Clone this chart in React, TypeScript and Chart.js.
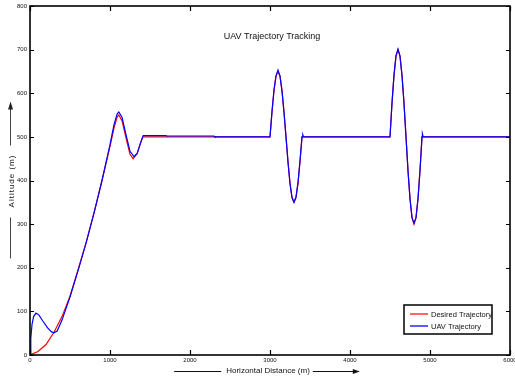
import React, { useEffect, useRef } from 'react';
import { Chart, registerables } from 'chart.js';

Chart.register(...registerables);

// ---- data ----
const desiredX = [0, 100, 200, 300, 400, 500, 600, 700, 800, 900, 1000, 1050, 1090, 1110, 1150, 1200, 1250, 1290, 1340, 1380, 1410,
  3000, 3025, 3050, 3075, 3100, 3125, 3150, 3175, 3200, 3225, 3250, 3275, 3300, 3325, 3350, 3375, 3400,
  4500, 4525, 4550, 4575, 4600, 4625, 4650, 4675, 4700, 4725, 4750, 4775, 4800, 4825, 4850, 4875, 4900, 6000];
const desiredY = [0, 8, 24, 52, 88, 135, 195, 257, 326, 400, 478, 520, 546, 550, 537, 498, 460, 450, 462, 485, 500,
  500, 557, 606, 639, 650, 639, 606, 557, 500, 443, 394, 361, 350, 361, 394, 443, 500,
  500, 577, 641, 685, 700, 685, 641, 577, 500, 423, 359, 315, 300, 315, 359, 423, 500, 500];

const uavX = [0, 10, 25, 45, 75, 110, 160, 220, 270, 300, 340, 400, 500, 600, 700, 800, 900, 1000, 1050, 1090, 1110, 1150, 1200, 1250, 1300, 1340, 1380, 1415,
  1700, 1710, 2300, 2310,
  3000, 3025, 3050, 3075, 3100, 3125, 3150, 3175, 3200, 3225, 3250, 3275, 3300, 3325, 3350, 3375, 3400, 3410, 3420,
  4500, 4525, 4550, 4575, 4600, 4625, 4650, 4675, 4700, 4725, 4750, 4775, 4800, 4825, 4850, 4875, 4900, 4905, 4915, 6000];
const uavY = [0, 38, 70, 88, 96, 92, 78, 62, 53, 51, 55, 80, 133, 193, 256, 325, 400, 482, 528, 553, 557, 545, 505, 467, 455, 462, 485, 503,
  503, 502, 502, 500,
  500, 558, 608, 640, 653, 640, 605, 556, 500, 442, 393, 361, 350, 362, 395, 445, 500, 505, 500,
  500, 578, 642, 686, 701, 685, 641, 577, 500, 422, 358, 315, 302, 315, 358, 423, 500, 507, 500, 500];

const xTicks = [0, 1000, 2000, 3000, 4000, 5000, 6000];
const yTicks = [0, 100, 200, 300, 400, 500, 600, 700, 800];

const chartTitle = 'UAV Trajectory Tracking';
const xTitle = 'Horizontal Distance (m)';
const yTitle = 'Altitude (m)';
const seriesLabels = ['Desired Trajectory', 'UAV Trajectory'];
const seriesColors = ['#ff0000', '#0000ff'];

const FONT = '"Liberation Sans", Arial, sans-serif';

const decorPlugin = {
  id: 'decor',
  afterDraw(chart: any) {
    const { ctx, chartArea } = chart;
    const xs = chart.scales.x;
    const ys = chart.scales.y;
    const { left, right, top, bottom } = chartArea;
    ctx.save();
    // border
    ctx.strokeStyle = '#000';
    ctx.lineWidth = 1.6;
    ctx.strokeRect(left, top, right - left, bottom - top);
    // inner ticks
    ctx.lineWidth = 1.2;
    ctx.beginPath();
    for (const v of xTicks) {
      const px = Math.round(xs.getPixelForValue(v)) + 0.5;
      ctx.moveTo(px, bottom); ctx.lineTo(px, bottom - 5);
      ctx.moveTo(px, top); ctx.lineTo(px, top + 5);
    }
    for (const v of yTicks) {
      const py = Math.round(ys.getPixelForValue(v)) + 0.5;
      ctx.moveTo(left, py); ctx.lineTo(left + 4, py);
      ctx.moveTo(right, py); ctx.lineTo(right - 4, py);
    }
    ctx.stroke();

    // title
    ctx.fillStyle = '#111';
    ctx.font = `9px ${FONT}`;
    ctx.textAlign = 'center';
    ctx.textBaseline = 'middle';
    ctx.fillText(chartTitle, (left + right) / 2 + 2, top + 31);

    // x title with lines
    ctx.font = `8px ${FONT}`;
    const xw = ctx.measureText(xTitle).width;
    const xc = (left + right) / 2 - 2;
    const xy = 371;
    ctx.fillText(xTitle, xc, xy);
    const tl = xc - xw / 2;
    const tr = xc + xw / 2;
    ctx.strokeStyle = '#111';
    ctx.lineWidth = 1;
    ctx.beginPath();
    ctx.moveTo(tl - 52, xy + 0.5); ctx.lineTo(tl - 5, xy + 0.5);
    ctx.moveTo(tr + 3, xy + 0.5); ctx.lineTo(tr + 46, xy + 0.5);
    ctx.stroke();
    ctx.fillStyle = '#111';
    ctx.beginPath();
    ctx.moveTo(tr + 50, xy + 0.5);
    ctx.lineTo(tr + 43, xy - 2);
    ctx.lineTo(tr + 43, xy + 3);
    ctx.closePath();
    ctx.fill();

    // y title with arrow
    const yc = 181;
    const yx = 12;
    ctx.save();
    ctx.translate(yx, yc);
    ctx.rotate(-Math.PI / 2);
    (ctx as any).letterSpacing = '1px';
    ctx.fillStyle = '#111';
    ctx.fillText(yTitle, 0, 0);
    const yw = ctx.measureText(yTitle).width;
    (ctx as any).letterSpacing = '0px';
    ctx.restore();
    const tTop = yc - yw / 2;
    const tBot = yc + yw / 2;
    ctx.strokeStyle = '#444';
    ctx.lineWidth = 1;
    ctx.beginPath();
    ctx.moveTo(yx - 1.5, tTop - 9); ctx.lineTo(yx - 1.5, tTop - 49);
    ctx.moveTo(yx - 1.5, tBot + 10); ctx.lineTo(yx - 1.5, tBot + 51);
    ctx.stroke();
    ctx.fillStyle = '#222';
    ctx.beginPath();
    ctx.moveTo(yx - 1.5, tTop - 53);
    ctx.lineTo(yx - 4, tTop - 45);
    ctx.lineTo(yx + 1, tTop - 45);
    ctx.closePath();
    ctx.fill();

    // legend
    const bx = right - 106;
    const by = bottom - 50;
    const bw = 88;
    const bh = 29;
    ctx.fillStyle = '#fff';
    ctx.fillRect(bx, by, bw, bh);
    ctx.strokeStyle = '#000';
    ctx.lineWidth = 1.5;
    ctx.strokeRect(bx, by, bw, bh);
    ctx.font = `7.5px ${FONT}`;
    ctx.textAlign = 'left';
    ctx.textBaseline = 'middle';
    const rows = [by + 9, by + 21];
    seriesLabels.forEach((lab, i) => {
      ctx.strokeStyle = i === 0 ? seriesColors[0] : '#5c5cff';
      ctx.lineWidth = i === 0 ? 1.2 : 2;
      ctx.beginPath();
      ctx.moveTo(bx + 6, rows[i]);
      ctx.lineTo(bx + 24, rows[i]);
      ctx.stroke();
      ctx.fillStyle = '#111';
      ctx.fillText(lab, bx + 27, rows[i] + 0.5);
    });
    ctx.restore();
  },
};

export default function App() {
  const ref = useRef<HTMLCanvasElement | null>(null);
  useEffect(() => {
    document.body.style.margin = '0';
    const canvas = ref.current;
    if (!canvas) return;
    const desired = desiredX.map((x, i) => ({ x, y: desiredY[i] }));
    const uav = uavX.map((x, i) => ({ x, y: uavY[i] }));
    const chart = new Chart(canvas, {
      type: 'line',
      data: {
        datasets: [
          { label: seriesLabels[0], data: desired, borderColor: seriesColors[0], borderWidth: 1.2, pointRadius: 0, tension: 0, fill: false, order: 2 },
          { label: seriesLabels[1], data: uav, borderColor: seriesColors[1], borderWidth: 1.2, pointRadius: 0, tension: 0, fill: false, order: 1 },
        ],
      },
      options: {
        responsive: false,
        animation: false,
        devicePixelRatio: 1,
        layout: { padding: { top: 6, right: 5, left: 0, bottom: 0 } },
        plugins: { legend: { display: false }, title: { display: false }, tooltip: { enabled: false } },
        scales: {
          x: {
            type: 'linear',
            min: 0,
            max: 6000,
            grid: { display: false, drawTicks: false },
            border: { display: false },
            afterBuildTicks: (s: any) => { s.ticks = xTicks.map((v) => ({ value: v })); },
            afterFit: (s: any) => { s.height = 28; s.paddingLeft = 0; s.paddingRight = 0; },
            ticks: { font: { family: FONT, size: 6 }, color: '#111', padding: 2, maxRotation: 0, autoSkip: false, callback: (v: any) => String(v) },
          },
          y: {
            type: 'linear',
            min: 0,
            max: 800,
            grid: { display: false, drawTicks: false },
            border: { display: false },
            afterBuildTicks: (s: any) => { s.ticks = yTicks.map((v) => ({ value: v })); },
            afterFit: (s: any) => { s.width = 30; s.paddingTop = 0; s.paddingBottom = 0; },
            ticks: { font: { family: FONT, size: 6 }, color: '#111', padding: 3, autoSkip: false, callback: (v: any) => String(v) },
          },
        },
      },
      plugins: [decorPlugin],
    });
    return () => chart.destroy();
  }, []);
  return (
    <div style={{ position: 'absolute', left: 0, top: 0, width: 515, height: 383, overflow: 'hidden', background: '#fff' }}>
      <canvas ref={ref} width={515} height={383} style={{ width: 515, height: 383, display: 'block' }} />
    </div>
  );
}
